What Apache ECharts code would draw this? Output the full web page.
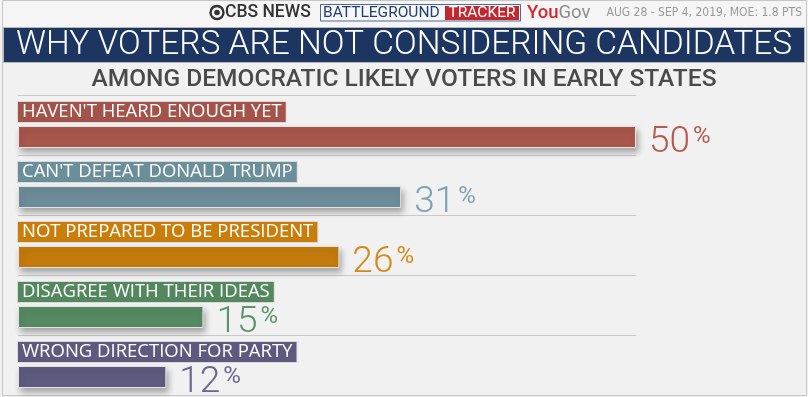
<!DOCTYPE html>
<html>
<head>
<meta charset="utf-8">
<script src="https://cdn.jsdelivr.net/npm/echarts@6/dist/echarts.min.js"></script>
<style>
html, body { margin: 0; padding: 0; background: #fff; }
#main { width: 808px; height: 397px; }
</style>
</head>
<body>
<div id="main"></div>
<script>
// data
const reasons = [
    "HAVEN'T HEARD ENOUGH YET",
    "CAN'T DEFEAT DONALD TRUMP",
    'NOT PREPARED TO BE PRESIDENT',
    'DISAGREE WITH THEIR IDEAS',
    'WRONG DIRECTION FOR PARTY'
];
const shares = [50, 31, 26, 15, 12];

const barColors = ['#a9574b', '#6d8c99', '#c57b0c', '#568a63', '#5f5b80'];
const tagColors = ['#a4534a', '#6b8e9b', '#c97e0c', '#53875d', '#5e597e'];
const numColors = ['#b35b4e', '#7ea2b0', '#d4891a', '#5c9469', '#6a6590'];

const chart = echarts.init(document.querySelector('#main'));

let option = {
    backgroundColor: '#f1f1f1',
    animation: false,
    grid: { left: 18, right: 172, top: 95, bottom: 2 },
    xAxis: {
        type: 'value', min: 0, max: 50,
        show: false
    },
    yAxis: {
        type: 'category',
        inverse: true,
        data: reasons,
        axisLine: { show: false },
        axisTick: { show: false },
        axisLabel: { show: false },
        splitLine: { show: true, lineStyle: { color: '#c9c9c9', width: 1 } }
    },
    graphic: [
        // header strip + frame
        { type: 'rect', shape: { x: 0, y: 0, width: 808, height: 27 }, style: { fill: '#f5f5f5' }, z: 0 },
        { type: 'rect', shape: { x: 2.5, y: 0.5, width: 804, height: 395 }, style: { fill: 'none', stroke: '#c6c6c6', lineWidth: 1 }, z: 1 },
        // CBS eye
        { type: 'circle', shape: { cx: 217, cy: 12.5, r: 6.5 }, style: { fill: 'none', stroke: '#333', lineWidth: 2.4 }, z: 5 },
        { type: 'circle', shape: { cx: 217, cy: 12.5, r: 2.8 }, style: { fill: '#333' }, z: 5 },
        {
            type: 'text', x: 225, y: 13, z: 5,
            style: { text: 'CBS NEWS', fill: '#333', fontSize: 17.5, fontWeight: 500, fontFamily: 'Roboto', verticalAlign: 'middle' }
        },
        { type: 'rect', shape: { x: 320.5, y: 4.5, width: 200, height: 16.5 }, style: { fill: '#f7f8fb', stroke: '#4b6a9b', lineWidth: 1 }, z: 5 },
        { type: 'rect', shape: { x: 445, y: 6, width: 74, height: 14 }, style: { fill: '#c1282e' }, z: 5 },
        {
            type: 'text', x: 323, y: 13, z: 6,
            style: { text: 'BATTLEGROUND', fill: '#25406d', fontSize: 15.5, fontFamily: 'Roboto', verticalAlign: 'middle' }
        },
        {
            type: 'text', x: 482, y: 13, z: 6,
            style: { text: 'TRACKER', fill: '#fff', fontSize: 15.5, fontFamily: 'Roboto', align: 'center', verticalAlign: 'middle' }
        },
        {
            type: 'text', x: 527, y: 13, z: 6,
            style: {
                text: '{a|You}{b|Gov}', verticalAlign: 'middle',
                rich: {
                    a: { fill: '#d7262d', fontSize: 18.5, fontWeight: 500, fontFamily: 'Roboto' },
                    b: { fill: '#8c8c8c', fontSize: 18.5, fontFamily: 'Roboto' }
                }
            }
        },
        {
            type: 'text', x: 802, y: 13, z: 6,
            style: { text: 'AUG 28 - SEP 4, 2019, MOE: 1.8 PTS', fill: '#9a9a9a', fontSize: 12, fontFamily: '"Liberation Sans Narrow", "DejaVu Sans Condensed", Roboto', align: 'right', verticalAlign: 'middle' }
        },
        // title bar
        { type: 'rect', shape: { x: 3.5, y: 27.5, width: 801, height: 35 }, style: { fill: '#1c3561', stroke: '#b9b9b9', lineWidth: 1 }, z: 5 },
        {
            type: 'text', x: 404, y: 46, z: 6,
            style: { text: 'WHY VOTERS ARE NOT CONSIDERING CANDIDATES', fill: '#fff', fontSize: 33.5, fontWeight: 300, fontFamily: 'Roboto', align: 'center', verticalAlign: 'middle' }
        },
        {
            type: 'text', x: 404, y: 80, z: 6,
            style: { text: 'AMONG DEMOCRATIC LIKELY VOTERS IN EARLY STATES', fill: '#4a4a4a', fontSize: 24.5, fontWeight: 500, fontFamily: 'Roboto', align: 'center', verticalAlign: 'middle' }
        }
    ],
    series: [
        {
            // holds the coloured tag above each bar
            name: 'tag',
            type: 'bar',
            barWidth: 20,
            barGap: '20%',
            silent: true,
            itemStyle: { color: 'transparent' },
            label: {
                show: true,
                position: 'insideLeft',
                distance: 0,
                formatter: '{b}',
                color: '#fff',
                fontSize: 18.5,
                fontFamily: '"Open Sans"',
                lineHeight: 17,
                padding: [2, 4, 1, 4],
                borderColor: '#d9d9d9',
                borderWidth: 1
            },
            data: shares.map((v, i) => ({ value: v, label: { backgroundColor: tagColors[i] } }))
        },
        {
            name: 'share',
            type: 'bar',
            barWidth: 22,
            barGap: '20%',
            itemStyle: {
                borderColor: '#e4e4e4',
                borderWidth: 1,
                shadowBlur: 6,
                shadowOffsetX: 2,
                shadowOffsetY: 4,
                shadowColor: 'rgba(0,0,0,0.3)'
            },
            label: {
                show: true,
                position: 'right',
                distance: 13,
                offset: [0, 6],
                formatter: (p) => '{n|' + p.value + '}{p|%}',
                rich: {
                    n: { fontSize: 37, lineHeight: 30, fontWeight: 300, fontFamily: 'Roboto' },
                    p: { fontSize: 24, lineHeight: 20, fontWeight: 400, fontFamily: 'Roboto', padding: [0, 0, 12, 3] }
                }
            },
            data: shares.map((v, i) => ({
                value: v,
                itemStyle: { color: barColors[i] },
                label: { color: numColors[i] }
            }))
        }
    ]
};
chart.setOption(option);
</script>
</body>
</html>
